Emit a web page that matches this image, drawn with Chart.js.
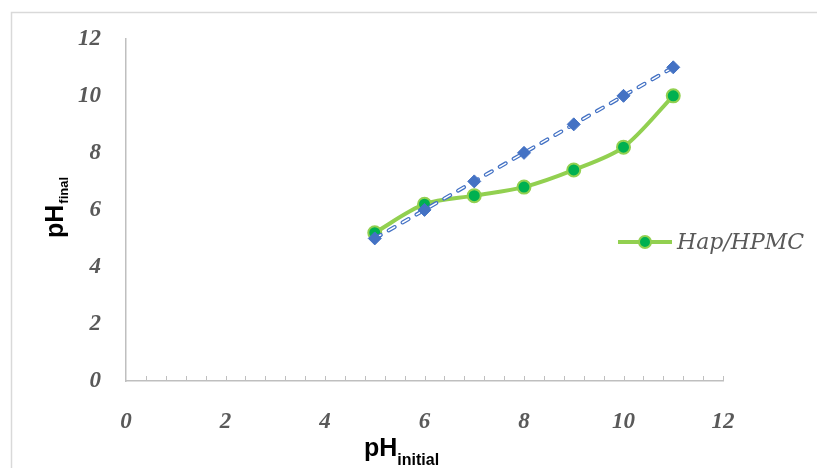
<!DOCTYPE html>
<html>
<head>
<meta charset="utf-8">
<script src="https://cdn.jsdelivr.net/npm/chart.js@4.4.1/dist/chart.umd.min.js"></script>
<style>
  body { margin: 0; background: #fff; }
  canvas { display: block; }
</style>
</head>
<body>
<canvas id="phChart" width="817" height="468"></canvas>
<script>
// values
const phInitial = [5, 6, 7, 8, 9, 10, 11];
const phFinalHap = [5.2, 6.2, 6.5, 6.8, 7.4, 8.2, 10.0];
const phFinalRef = [5, 6, 7, 8, 9, 10, 11];
const axisMin = 0;
const axisMax = 12;
const majorStep = 2;
const minorStep = 0.4;
const seriesLabel = 'Hap/HPMC';

const toPoints = (xs, ys) => xs.map((x, i) => ({ x: x, y: ys[i] }));

const green = '#92D050';
const greenDot = '#00B050';
const blue = '#4472C4';
const tickFont = { family: 'Liberation Serif', size: 23, style: 'italic', weight: 'bold' };

const decorations = {
  id: 'decorations',
  beforeDraw(chart) {
    const ctx = chart.ctx;
    ctx.save();
    ctx.fillStyle = '#fff';
    ctx.fillRect(0, 0, chart.width, chart.height);
    ctx.strokeStyle = '#d9d9d9';
    ctx.lineWidth = 1.5;
    ctx.strokeRect(11.5, 12.5, chart.width + 20, chart.height + 20);
    ctx.restore();
  },
  afterDraw(chart) {
    const ctx = chart.ctx;
    const a = chart.chartArea;
    const xs = chart.scales.x;
    ctx.save();

    // small inward ticks on the x axis
    ctx.strokeStyle = '#bfbfbf';
    ctx.lineWidth = 1;
    for (let v = minorStep; v <= axisMax + 0.001; v += minorStep) {
      const px = Math.round(xs.getPixelForValue(v)) + 0.5;
      ctx.beginPath();
      ctx.moveTo(px, a.bottom);
      ctx.lineTo(px, a.bottom - 5);
      ctx.stroke();
    }

    // axis titles with subscripts
    ctx.fillStyle = '#000';
    ctx.textBaseline = 'alphabetic';
    ctx.textAlign = 'left';
    ctx.font = "bold 25px 'Liberation Sans'";
    const wX = ctx.measureText('pH').width;
    const tx = a.left + 238;
    ctx.fillText('pH', tx, 456);
    ctx.font = "bold 16px 'Liberation Sans'";
    ctx.fillText('initial', tx + wX, 465);

    ctx.translate(63, 238);
    ctx.rotate(-Math.PI / 2);
    ctx.font = "bold 25px 'Liberation Sans'";
    const wY = ctx.measureText('pH').width;
    ctx.fillText('pH', 0, 0);
    ctx.font = "bold 13px 'Liberation Sans'";
    ctx.fillText('final', wY + 1, 5);
    ctx.setTransform(1, 0, 0, 1, 0, 0);

    // legend inside the plot
    const ly = 242;
    const lx = a.right - 105;
    ctx.strokeStyle = green;
    ctx.lineWidth = 4;
    ctx.beginPath();
    ctx.moveTo(lx, ly);
    ctx.lineTo(lx + 54, ly);
    ctx.stroke();
    ctx.beginPath();
    ctx.arc(lx + 27, ly, 6, 0, Math.PI * 2);
    ctx.fillStyle = greenDot;
    ctx.fill();
    ctx.lineWidth = 2;
    ctx.stroke();
    ctx.fillStyle = '#595959';
    ctx.font = "italic 22px 'DejaVu Serif'";
    ctx.textBaseline = 'middle';
    ctx.fillText(seriesLabel, lx + 59, ly + 1);
    ctx.restore();
  }
};

const ctx = document.getElementById('phChart').getContext('2d');
const phChart = new Chart(ctx, {
  type: 'scatter',
  data: {
    datasets: [
      {
        label: 'reference markers',
        data: toPoints(phInitial, phFinalRef),
        showLine: false,
        pointStyle: 'rectRot',
        pointRadius: 6.5,
        backgroundColor: blue,
        borderColor: blue,
        pointBorderWidth: 1
      },
      {
        label: 'reference inner',
        data: toPoints(phInitial, phFinalRef),
        showLine: true,
        borderColor: '#fff',
        borderWidth: 1.5,
        borderDash: [7, 9],
        borderCapStyle: 'round',
        pointRadius: 0
      },
      {
        label: 'reference',
        data: toPoints(phInitial, phFinalRef),
        showLine: true,
        borderColor: blue,
        borderWidth: 4,
        borderDash: [7, 9],
        borderCapStyle: 'round',
        pointRadius: 0
      },
      {
        label: seriesLabel,
        data: toPoints(phInitial, phFinalHap),
        showLine: true,
        borderColor: green,
        borderWidth: 4,
        tension: 0.3,
        pointRadius: 6.5,
        pointBorderWidth: 2,
        pointBackgroundColor: greenDot,
        pointBorderColor: green
      }
    ]
  },
  options: {
    responsive: false,
    animation: false,
    layout: { padding: { left: 0, top: 37, right: 94, bottom: 0 } },
    plugins: {
      legend: { display: false },
      tooltip: { enabled: false }
    },
    scales: {
      x: {
        type: 'linear',
        min: axisMin,
        max: axisMax,
        grid: { display: false, drawTicks: false },
        border: { display: true, color: '#bfbfbf', width: 1.5 },
        ticks: {
          stepSize: majorStep,
          padding: 27,
          color: '#595959',
          font: tickFont
        },
        afterFit(scale) { scale.height = 87; }
      },
      y: {
        type: 'linear',
        min: axisMin,
        max: axisMax,
        grid: { display: false, drawTicks: false },
        border: { display: true, color: '#bfbfbf', width: 1.5 },
        ticks: {
          stepSize: majorStep,
          padding: 25,
          color: '#595959',
          font: tickFont
        },
        afterFit(scale) { scale.width = 126; }
      }
    }
  },
  plugins: [decorations]
});
</script>
</body>
</html>
